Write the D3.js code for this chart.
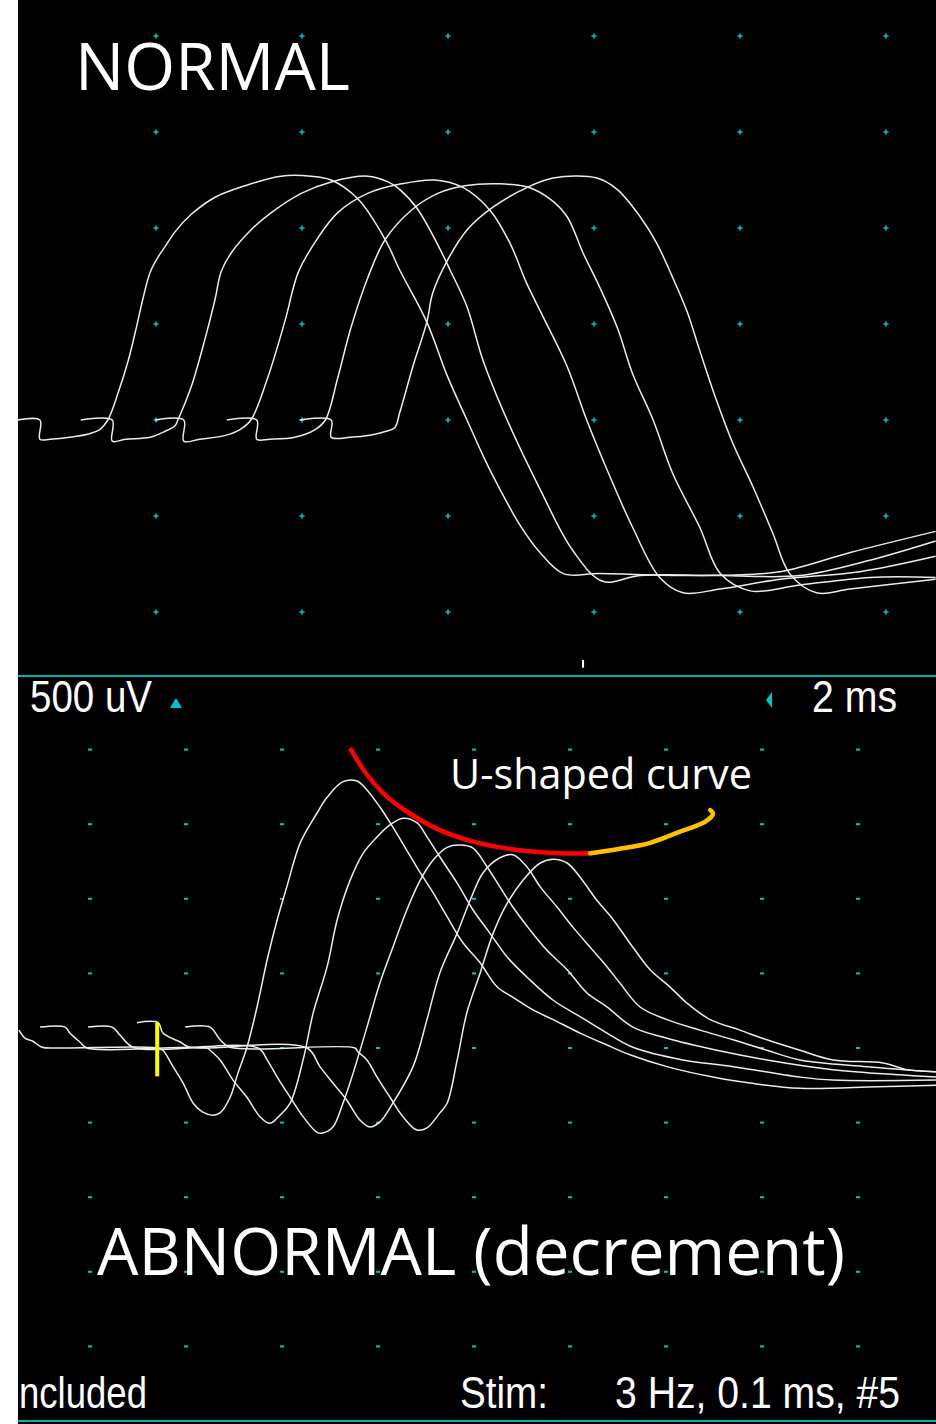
<!DOCTYPE html>
<html><head><meta charset="utf-8">
<script src="https://cdn.jsdelivr.net/npm/d3@7"></script>
<style>html,body{margin:0;padding:0;background:#fff;} svg{display:block}</style>
</head><body>
<svg id="c" width="936" height="1424"></svg>
<script>
// ---------------- DATA ----------------
// Top panel (NORMAL): time in ms, amplitude in mV (500 uV / div, 2 ms / div)
const normal1 = [[0.10,0],[0.41,0],[0.41,-0.10],[0.55,-0.10],[0.82,-0.09],[1.10,-0.07],[1.23,-0.05],[1.34,0],[1.48,0.14],[1.62,0.31],[1.73,0.48],[1.82,0.63],[1.92,0.77],[2.03,0.85],[2.12,0.90],[2.26,0.98],[2.48,1.07],[2.81,1.16],[3.22,1.22],[3.71,1.27],[4.12,1.27],[4.40,1.25],[4.77,1.15],[5.14,0.94],[5.34,0.78],[5.71,0.51],[5.99,0.23],[6.26,0],[6.51,-0.21],[6.71,-0.36],[6.99,-0.55],[7.26,-0.69],[7.58,-0.80],[8.08,-0.80],[9.45,-0.81],[10.55,-0.79],[11.51,-0.69],[12.68,-0.58]];
const normal2 = [[0.97,0],[1.40,0],[1.40,-0.11],[1.58,-0.10],[1.92,-0.09],[2.12,-0.06],[2.26,-0.03],[2.30,0],[2.48,0.17],[2.67,0.42],[2.81,0.63],[2.89,0.77],[3.03,0.87],[3.30,0.99],[3.58,1.08],[3.99,1.18],[4.40,1.24],[4.90,1.27],[5.18,1.24],[5.34,1.20],[5.58,1.10],[5.89,0.89],[6.03,0.78],[6.26,0.59],[6.48,0.31],[6.81,0],[7.26,-0.36],[7.71,-0.68],[8.12,-0.84],[8.63,-0.81],[9.73,-0.81],[10.82,-0.81],[11.78,-0.73],[12.68,-0.63]];
const normal3 = [[1.99,0],[2.38,0],[2.38,-0.11],[2.60,-0.10],[2.95,-0.08],[3.15,-0.05],[3.30,0],[3.53,0.22],[3.77,0.52],[3.95,0.77],[4.22,0.95],[4.49,1.08],[4.90,1.18],[5.36,1.23],[5.82,1.25],[6.21,1.21],[6.58,1.09],[6.85,0.92],[7.08,0.71],[7.30,0.54],[7.63,0.28],[7.90,0],[8.18,-0.26],[8.53,-0.56],[8.90,-0.82],[9.22,-0.90],[9.73,-0.88],[10.55,-0.83],[11.64,-0.79],[12.68,-0.71]];
const normal4 = [[2.97,0],[3.38,0],[3.38,-0.10],[3.56,-0.10],[3.90,-0.09],[4.18,-0.05],[4.32,0],[4.49,0.22],[4.67,0.48],[4.90,0.74],[5.14,0.94],[5.49,1.09],[5.86,1.18],[6.23,1.22],[6.71,1.23],[7.12,1.21],[7.40,1.15],[7.63,1.06],[7.85,0.87],[8.08,0.69],[8.32,0.48],[8.53,0.24],[8.81,0],[9.08,-0.28],[9.45,-0.56],[9.73,-0.80],[10.14,-0.89],[10.82,-0.86],[11.78,-0.82],[12.68,-0.82]];
const normal5 = [[3.97,0],[4.40,0],[4.40,-0.09],[4.66,-0.09],[4.93,-0.08],[5.14,-0.06],[5.27,-0.04],[5.34,0.04],[5.52,0.28],[5.71,0.51],[5.79,0.66],[5.99,0.83],[6.26,0.99],[6.62,1.11],[7.08,1.21],[7.44,1.26],[8.04,1.26],[8.32,1.20],[8.63,1.06],[8.86,0.92],[9.08,0.74],[9.27,0.57],[9.45,0.36],[9.68,0.10],[9.90,-0.12],[10.18,-0.35],[10.45,-0.59],[10.68,-0.80],[11.05,-0.90],[11.51,-0.88],[12.68,-0.83]];

// Bottom panel (ABNORMAL): time in ms, amplitude in mV
const abnormal1 = [[0.52,0.24],[0.65,0.13],[0.81,0.09],[1.00,0.01],[1.38,0],[3.42,0],[3.52,-0.03],[3.73,-0.25],[3.94,-0.47],[4.15,-0.74],[4.35,-0.86],[4.56,-0.90],[4.71,-0.87],[4.92,-0.66],[5.08,-0.34],[5.27,0.01],[5.48,0.55],[5.69,1.18],[5.90,1.72],[6.10,2.16],[6.38,2.75],[6.73,3.15],[6.94,3.36],[7.27,3.57],[7.56,3.58],[7.77,3.46],[8.04,3.23],[8.31,2.96],[8.60,2.65],[8.88,2.35],[9.15,2.08],[9.44,1.76],[9.77,1.41],[10.13,1.14],[10.48,0.82],[10.81,0.68],[11.23,0.51],[11.65,0.38],[12.21,0.20],[12.77,0.04],[13.25,-0.09],[14.02,-0.25],[15.06,-0.40],[15.75,-0.47],[16.79,-0.54],[18.40,-0.52],[19.63,-0.50]];
const abnormal2 = [[0.96,0.28],[1.48,0.28],[1.58,0.20],[1.79,0.08],[1.94,0],[4.44,0],[4.50,-0.03],[4.71,-0.16],[4.98,-0.43],[5.27,-0.66],[5.54,-0.92],[5.75,-1.01],[5.96,-0.90],[6.17,-0.74],[6.44,-0.16],[6.65,0.47],[6.94,1.09],[7.15,1.72],[7.42,2.25],[7.69,2.61],[7.98,2.83],[8.25,2.99],[8.52,3.08],[8.81,3.02],[9.02,2.83],[9.29,2.56],[9.65,2.21],[9.98,1.85],[10.33,1.54],[10.69,1.22],[11.17,0.91],[11.65,0.64],[12.21,0.42],[12.77,0.20],[13.31,0.01],[14.35,-0.16],[15.40,-0.25],[16.79,-0.39],[17.48,-0.43],[19.63,-0.43]];
const abnormal3 = [[1.96,0.28],[2.46,0.28],[2.63,0.17],[2.90,0.01],[5.50,0],[5.69,-0.16],[5.90,-0.39],[6.17,-0.66],[6.44,-0.92],[6.73,-1.13],[6.85,-1.14],[7.06,-1.06],[7.27,-0.74],[7.48,-0.34],[7.77,0.28],[8.04,0.87],[8.31,1.35],[8.60,1.85],[8.88,2.25],[9.15,2.52],[9.44,2.69],[9.71,2.72],[9.98,2.68],[10.27,2.43],[10.54,2.16],[10.81,1.89],[11.17,1.58],[11.52,1.31],[11.94,1.05],[12.35,0.74],[12.77,0.55],[13.31,0.28],[14.02,0.13],[15.06,-0.03],[16.10,-0.16],[17.48,-0.29],[18.88,-0.36],[19.63,-0.39]];
const abnormal4 = [[2.98,0.34],[3.42,0.34],[3.52,0.20],[3.88,0.08],[4.08,0.01],[6.52,0],[6.79,-0.25],[7.06,-0.47],[7.35,-0.70],[7.63,-0.97],[7.83,-1.06],[8.04,-0.99],[8.29,-0.76],[8.73,-0.25],[9.02,0.38],[9.29,1.01],[9.65,1.54],[9.92,1.98],[10.19,2.35],[10.54,2.55],[10.81,2.59],[11.10,2.43],[11.38,2.16],[11.73,1.89],[12.06,1.62],[12.42,1.35],[12.77,1.09],[13.04,0.87],[13.46,0.55],[14.02,0.38],[14.71,0.24],[15.40,0.11],[16.10,-0.03],[16.79,-0.16],[18.19,-0.25],[19.63,-0.32]];
const abnormal5 = [[3.98,0.28],[4.50,0.28],[4.71,0.11],[4.92,0.01],[7.52,0],[7.58,-0.05],[7.77,-0.16],[7.98,-0.39],[8.25,-0.66],[8.52,-0.92],[8.81,-1.10],[9.02,-1.07],[9.29,-0.87],[9.44,-0.74],[9.65,-0.16],[9.85,0.47],[10.13,1.01],[10.40,1.54],[10.69,1.94],[11.02,2.25],[11.38,2.48],[11.65,2.53],[11.94,2.48],[12.21,2.29],[12.56,1.98],[12.90,1.72],[13.31,1.35],[13.67,1.05],[14.08,0.82],[14.44,0.60],[14.92,0.38],[15.54,0.24],[16.10,0.11],[16.79,-0.03],[17.48,-0.16],[18.52,-0.20],[19.02,-0.29],[19.63,-0.32]];

// U-shaped annotation (bottom panel units)
const uCurveRed = [[7.42,4.02],[7.73,3.70],[8.15,3.39],[8.67,3.14],[9.29,2.92],[10.02,2.76],[10.96,2.65],[11.79,2.61],[12.46,2.61]];
const uCurveOrange = [[12.42,2.61],[13.04,2.67],[13.67,2.75],[14.29,2.90],[14.81,3.03],[14.98,3.14],[14.92,3.19]];

// stimulus marker (bottom), cursor tick (top)
const stimMarker = {t:3.40, a0:0.34, a1:-0.38};
const cursorTick = {t:7.85, a0:-1.25, a1:-1.29};

// grid ticks
const topGridTimes = [2,4,6,8,10,12];
const topGridAmps = [-1,-0.5,0,0.5,1,1.5,2];
const botGridTimes = [2,4,6,8,10,12,14,16,18];
const botGridAmps = [-4,-3,-2,-1,0,1,2,3,4];

// text
const titles = ["NORMAL", "ABNORMAL (decrement)"];
const annotation = "U-shaped curve";
const scaleLabels = ["500 uV", "2 ms"];
const footerLabels = ["ncluded", "Stim:", "3 Hz, 0.1 ms, #5"];

// ---------------- DRAW ----------------
const W = 936, H = 1424;
const svg = d3.select("#c");
const CYAN = "#00c4c4", LINE_CYAN = "#00b0b0", TRACE = "#ececec";

svg.append("rect").attr("x",0).attr("y",0).attr("width",W).attr("height",H).attr("fill","#000");

const xTop = d3.scaleLinear().domain([0,12]).range([10,886]);
const yTop = d3.scaleLinear().domain([0,2]).range([420,36]);
const xBot = d3.scaleLinear().domain([0,18]).range([-6,858]);
const yBot = d3.scaleLinear().domain([0,4]).range([1048,749.6]);

const defs = svg.append("defs");
defs.append("clipPath").attr("id","clipTop").append("rect").attr("x",18).attr("y",0).attr("width",W-18).attr("height",674);
defs.append("clipPath").attr("id","clipBot").append("rect").attr("x",18).attr("y",716).attr("width",W-18).attr("height",702);

// top grid (small plus marks)
const gTopGrid = svg.append("g");
topGridTimes.forEach(t => topGridAmps.forEach(a => {
  gTopGrid.append("path")
    .attr("d", `M${xTop(t)-2.5},${yTop(a)}H${xTop(t)+2.5}M${xTop(t)},${yTop(a)-2.5}V${yTop(a)+2.5}`)
    .attr("stroke", CYAN).attr("stroke-width",1.6);
}));

// bottom grid (small dashes)
const gBotGrid = svg.append("g");
botGridTimes.forEach(t => botGridAmps.forEach(a => {
  gBotGrid.append("rect").attr("x", xBot(t)-2).attr("y", yBot(a)-1).attr("width",4).attr("height",2).attr("fill", CYAN);
}));

// top traces
const lineTop = d3.line().x(d=>xTop(d[0])).y(d=>yTop(d[1])).curve(d3.curveCatmullRom.alpha(0.5));
const gTop = svg.append("g").attr("clip-path","url(#clipTop)");
[normal1, normal2, normal3, normal4, normal5].forEach(tr => {
  gTop.append("path").attr("d", lineTop(tr)).attr("fill","none").attr("stroke",TRACE).attr("stroke-width",1.5);
});
// cursor tick
gTop.append("line").attr("x1",xTop(cursorTick.t)).attr("x2",xTop(cursorTick.t))
  .attr("y1",yTop(cursorTick.a0)).attr("y2",yTop(cursorTick.a1)).attr("stroke","#fff").attr("stroke-width",2);

// bottom traces
const lineBot = d3.line().x(d=>xBot(d[0])).y(d=>yBot(d[1])).curve(d3.curveCatmullRom.alpha(0.5));
const gBot = svg.append("g").attr("clip-path","url(#clipBot)");
[abnormal1, abnormal2, abnormal3, abnormal4, abnormal5].forEach(tr => {
  gBot.append("path").attr("d", lineBot(tr)).attr("fill","none").attr("stroke",TRACE).attr("stroke-width",1.5);
});
// stim marker
gBot.append("line").attr("x1",xBot(stimMarker.t)).attr("x2",xBot(stimMarker.t))
  .attr("y1",yBot(stimMarker.a0)).attr("y2",yBot(stimMarker.a1)).attr("stroke","#ffff00").attr("stroke-width",4);

// U-shaped annotation
gBot.append("path").attr("d", lineBot(uCurveRed)).attr("fill","none").attr("stroke","#ff0000").attr("stroke-width",4.5).attr("stroke-linecap","butt");
gBot.append("path").attr("d", lineBot(uCurveOrange)).attr("fill","none").attr("stroke","#ffc000").attr("stroke-width",4.5).attr("stroke-linecap","round");

// separator lines
svg.append("rect").attr("x",18).attr("y",675).attr("width",W-18).attr("height",2).attr("fill",LINE_CYAN);
svg.append("rect").attr("x",18).attr("y",1420).attr("width",W-18).attr("height",2).attr("fill",LINE_CYAN);

// scale glyphs
svg.append("path").attr("d","M170,708L176,698L182,708Z").attr("fill",CYAN);
svg.append("path").attr("d","M766,700L772,692L772,708Z").attr("fill",CYAN);

const instFont = "'Liberation Sans', Arial, sans-serif";
svg.append("text").attr("x",30).attr("y",712).attr("font-family",instFont).attr("font-size",44)
  .attr("fill","#fff").attr("textLength",122).attr("lengthAdjust","spacingAndGlyphs").text(scaleLabels[0]);
svg.append("text").attr("x",812).attr("y",712).attr("font-family",instFont).attr("font-size",44)
  .attr("fill","#fff").attr("textLength",85).attr("lengthAdjust","spacingAndGlyphs").text(scaleLabels[1]);

svg.append("text").attr("x",19).attr("y",1408).attr("font-family",instFont).attr("font-size",44)
  .attr("fill","#fff").attr("textLength",128).attr("lengthAdjust","spacingAndGlyphs").text(footerLabels[0]);
svg.append("text").attr("x",460).attr("y",1408).attr("font-family",instFont).attr("font-size",44)
  .attr("fill","#fff").attr("textLength",88).attr("lengthAdjust","spacingAndGlyphs").text(footerLabels[1]);
svg.append("text").attr("x",615).attr("y",1408).attr("font-family",instFont).attr("font-size",44)
  .attr("fill","#fff").attr("textLength",285).attr("lengthAdjust","spacingAndGlyphs").text(footerLabels[2]);

// titles
const titleFont = "'Open Sans', 'Noto Sans', sans-serif";
svg.append("text").attr("x",75).attr("y",90).attr("font-family",titleFont).attr("font-size",66)
  .attr("fill","#fff").attr("textLength",275).attr("lengthAdjust","spacingAndGlyphs").text(titles[0]);
svg.append("text").attr("x",97).attr("y",1275).attr("font-family",titleFont).attr("font-size",66)
  .attr("fill","#fff").attr("textLength",748).attr("lengthAdjust","spacingAndGlyphs").text(titles[1]);
svg.append("text").attr("x",450).attr("y",789).attr("font-family",titleFont).attr("font-size",42)
  .attr("fill","#fff").attr("textLength",302).attr("lengthAdjust","spacingAndGlyphs").text(annotation);

// white left margin
svg.append("rect").attr("x",0).attr("y",0).attr("width",18).attr("height",H).attr("fill","#fff");
</script>
</body></html>
